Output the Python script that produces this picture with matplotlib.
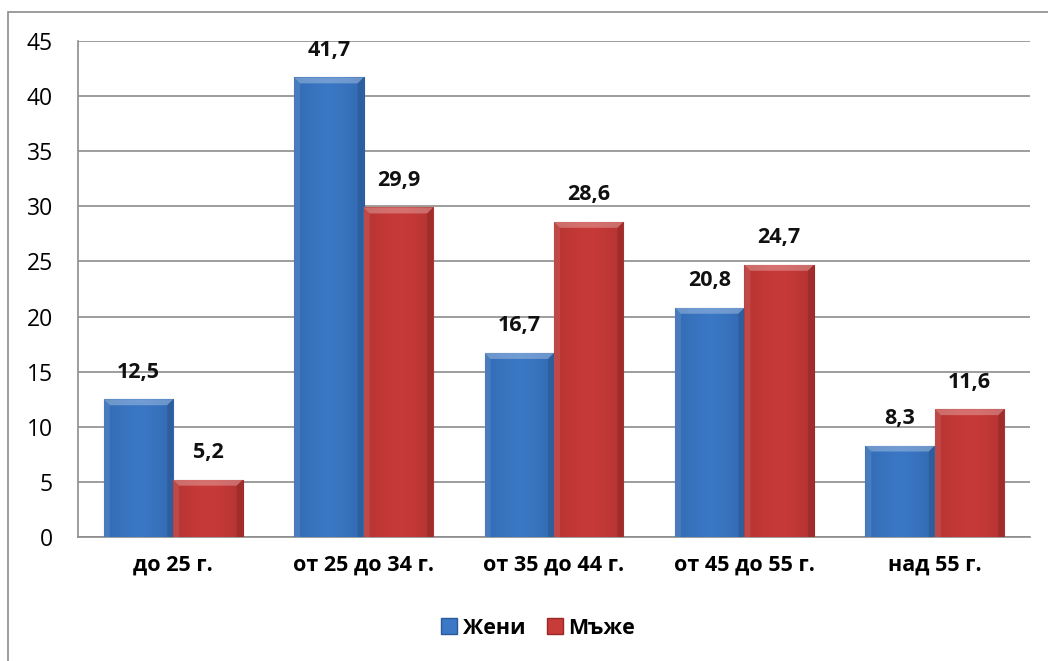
import numpy as np
import matplotlib
matplotlib.use("Agg")
import matplotlib.pyplot as plt
from matplotlib.patches import Rectangle, Polygon

categories = ["до 25 г.", "от 25 до 34 г.", "от 35 до 44 г.", "от 45 до 55 г.", "над 55 г."]
series_names = ["Жени", "Мъже"]
women = [12.5, 41.7, 16.7, 20.8, 8.3]
men = [5.2, 29.9, 28.6, 24.7, 11.6]
y_ticks = [0, 5, 10, 15, 20, 25, 30, 35, 40, 45]

plt.rcParams["font.family"] = ["Open Sans", "DejaVu Sans"]

fig = plt.figure(figsize=(10.48, 6.61), dpi=100)
ax = fig.add_axes([78 / 1048, 1 - 537 / 661, (1030 - 78) / 1048, (537 - 41) / 661])

# outer chart border (left and top visible, runs off to the right/bottom)
fig.add_artist(Rectangle((8 / 1048, -0.1), 1.2, 1 - 12 / 661 + 0.1,
                         transform=fig.transFigure, fill=False,
                         edgecolor="#8c8c8c", linewidth=1.2))

x = np.arange(len(categories))
width = 0.365
colors = ["#3b78c6", "#c93b39"]
dark = ["#2a5a9a", "#9a2a28"]

ax.set_xlim(-0.5, len(categories) - 0.5)
ax.set_ylim(0, 45)
# bevel size in data units (~6 px)
px_x = (len(categories)) / 952
px_y = 45 / 496
bx_d, by_d = 6 * px_x, 6 * px_y


def bevel(b, zo):
    x0, w, h = b.get_x(), b.get_width(), b.get_height()
    x1 = x0 + w
    ddy = min(by_d, h / 2)
    top = [(x0, h), (x1, h), (x1 - bx_d, h - ddy), (x0 + bx_d, h - ddy)]
    left = [(x0, 0), (x0, h), (x0 + bx_d, h - ddy), (x0 + bx_d, 0)]
    right = [(x1, 0), (x1, h), (x1 - bx_d, h - ddy), (x1 - bx_d, 0)]
    ax.add_patch(Polygon(top, closed=True, facecolor="white", alpha=0.28, lw=0, zorder=zo))
    ax.add_patch(Polygon(left, closed=True, facecolor="white", alpha=0.10, lw=0, zorder=zo))
    ax.add_patch(Polygon(right, closed=True, facecolor="black", alpha=0.12, lw=0, zorder=zo))


for i, (vals, c, d, name) in enumerate(zip([women, men], colors, dark, series_names)):
    offs = x + (i - 0.5) * width
    bars = ax.bar(offs, vals, width, color=c, edgecolor=d, linewidth=0.8,
                  label=name, zorder=3)
    cmap = matplotlib.colors.LinearSegmentedColormap.from_list("s", [d, c, "#ffffff"])
    for b in bars:
        bx, bw, bh = b.get_x(), b.get_width(), b.get_height()
        grad = np.array([[0.05, 0.2, 0.3, 0.3, 0.2, 0.0]])
        im = ax.imshow(0.5 + grad, extent=(bx, bx + bw, 0, bh), cmap=cmap,
                       vmin=0, vmax=1.7, aspect="auto", zorder=3.5,
                       interpolation="bicubic")
        im.set_clip_path(b)
        bevel(b, 3.6)
    for xo, v in zip(offs, vals):
        ax.text(xo, v + 1.5, f"{v:.1f}".replace(".", ","), ha="center",
                va="bottom", fontsize=15.5, fontweight="bold", color="#111111")

ax.set_yticks(y_ticks)
ax.set_yticklabels([str(t) for t in y_ticks], fontsize=16.5)
ax.set_xticks(x)
ax.set_xticklabels(categories, fontsize=15.5, fontweight="bold")
ax.tick_params(axis="x", length=0, pad=13)
ax.tick_params(axis="y", length=0, pad=18)
ax.yaxis.grid(True, color="#8c8c8c", linewidth=1.2, zorder=0)
ax.set_axisbelow(True)
for s in ["top", "right"]:
    ax.spines[s].set_visible(False)
ax.spines["left"].set_color("#8c8c8c")
ax.spines["bottom"].set_color("#8c8c8c")
ax.spines["left"].set_linewidth(1.2)
ax.spines["bottom"].set_linewidth(1.2)

handles = [Rectangle((0, 0), 1, 1, facecolor=c, edgecolor=d) for c, d in zip(colors, dark)]
fig.legend(handles, series_names, loc="center", bbox_to_anchor=(538 / 1048, 1 - 628 / 661),
           ncol=2, frameon=False, prop={"size": 15.5, "weight": "bold"},
           handlelength=0.75, handleheight=0.75, handletextpad=0.25, columnspacing=1.0)

fig.savefig("out.png", dpi=100)
